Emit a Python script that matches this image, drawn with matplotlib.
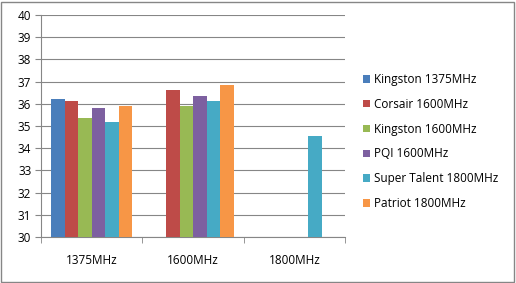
import numpy as np
import matplotlib.pyplot as plt
from matplotlib.patches import Rectangle

categories = ['1375MHz', '1600MHz', '1800MHz']
series = ['Kingston 1375MHz', 'Corsair 1600MHz', 'Kingston 1600MHz',
          'PQI 1600MHz', 'Super Talent 1800MHz', 'Patriot 1800MHz']
values = [
    [36.22, np.nan, np.nan],
    [36.13, 36.60, np.nan],
    [35.34, 35.91, np.nan],
    [35.83, 36.36, np.nan],
    [35.19, 36.13, 34.56],
    [35.91, 36.85, np.nan],
]
colors = ['#4A7EBB', '#BE4B48', '#98B954', '#7D60A0', '#46AAC5', '#F79646']

plt.rcParams['font.family'] = ['Open Sans', 'DejaVu Sans']
fig = plt.figure(figsize=(5.16, 2.83), dpi=100)
ax = fig.add_axes([0.0795, 0.1625, 0.5895, 0.7845])

n = len(series)
w = 1 / (n + 1.5)
x = np.arange(len(categories))
for i, (name, vals, c) in enumerate(zip(series, values, colors)):
    v = np.array(vals, dtype=float)
    ax.bar(x + (i - (n - 1) / 2) * w, v - 30, bottom=30, width=w, color=c, label=name, zorder=3)

ax.set_xlim(-0.5, len(categories) - 0.5)
ax.set_ylim(30, 40)
ax.set_yticks(range(30, 41))
ax.set_xticks(x)
ax.set_xticklabels(categories)
ax.set_xticks(np.arange(-0.5, len(categories)), minor=True)
ax.tick_params(axis='x', which='major', length=0, pad=12, labelsize=8.5)
ax.tick_params(axis='x', which='minor', length=4, color='#868686', direction='out')
ax.tick_params(axis='y', length=4, color='#868686', labelsize=8.5, pad=3)
ax.grid(axis='y', color='#868686', linewidth=0.8, zorder=0)
for s in ['top', 'right']:
    ax.spines[s].set_visible(False)
for s in ['left', 'bottom']:
    ax.spines[s].set_color('#868686')
    ax.spines[s].set_linewidth(0.8)

ax.legend(loc='upper left', bbox_to_anchor=(363 / 516, 1 - 73 / 283), bbox_transform=fig.transFigure,
          frameon=False, fontsize=8.5, handlelength=0.6, handleheight=0.6, handletextpad=0.35,
          labelspacing=1.0, borderaxespad=0, borderpad=0)

fig.patches.append(Rectangle((0.002, 0.004), 0.994, 0.99, transform=fig.transFigure,
                             fill=False, edgecolor='#868686', linewidth=1))
fig.savefig('out.png', dpi=100)
